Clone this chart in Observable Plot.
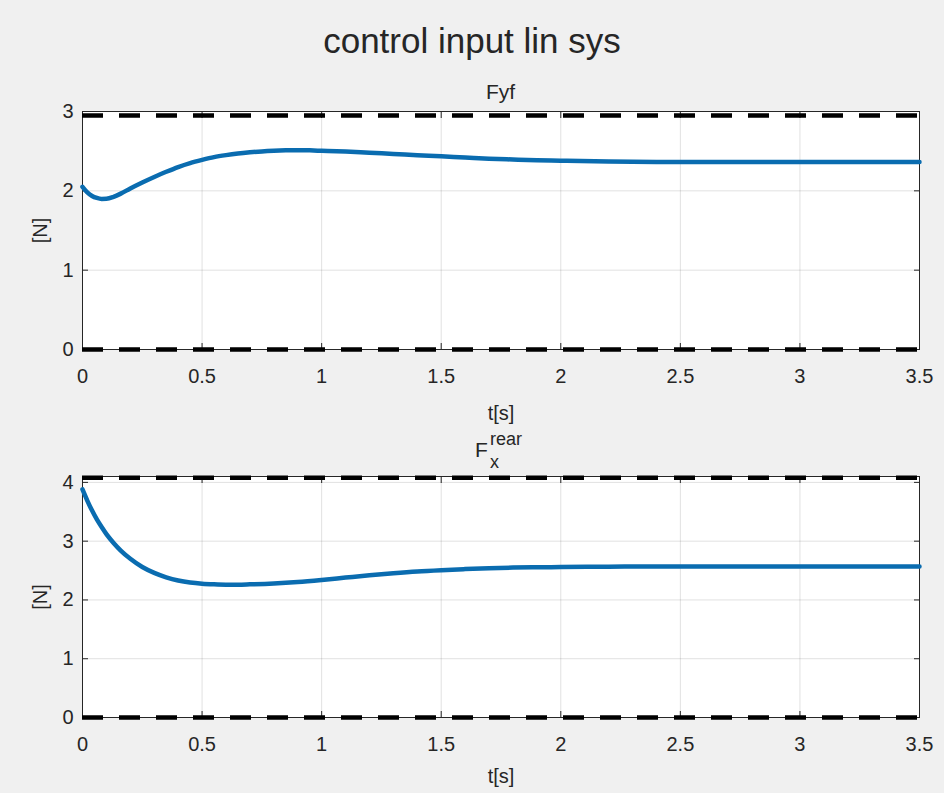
<!DOCTYPE html>
<html><head><meta charset="utf-8">
<script src="https://cdn.jsdelivr.net/npm/d3@7"></script>
<script src="https://cdn.jsdelivr.net/npm/@observablehq/plot@0.6"></script>
<style>
body{margin:0;background:#f0f0f0;}
#fig{position:relative;width:944px;height:793px;background:#f0f0f0;font-family:"Liberation Sans",Arial,sans-serif;color:#262626;overflow:hidden}
.abs{position:absolute;white-space:nowrap;line-height:1}
.plot{position:absolute;left:0}
</style></head><body><div id="fig"></div>
<script>
// ---- data ----
const figTitle = "control input lin sys";
const xLabel = "t[s]";
const yLabel = "[N]";
const xTicks = [0, 0.5, 1, 1.5, 2, 2.5, 3, 3.5];
const xTickLabels = ["0", "0.5", "1", "1.5", "2", "2.5", "3", "3.5"];

const tFyf = [0, 0.02, 0.04, 0.06, 0.08, 0.1, 0.13, 0.16, 0.2, 0.25, 0.3, 0.35, 0.4, 0.45, 0.5, 0.55, 0.6, 0.65, 0.7, 0.75, 0.8, 0.85, 0.9, 0.95, 1.0, 1.1, 1.2, 1.3, 1.4, 1.5, 1.6, 1.7, 1.8, 1.9, 2.0, 2.2, 2.4, 2.6, 2.8, 3.0, 3.2, 3.5];
const vFyf = [2.05, 1.98, 1.935, 1.91, 1.898, 1.9, 1.925, 1.965, 2.03, 2.105, 2.175, 2.24, 2.30, 2.35, 2.39, 2.425, 2.45, 2.47, 2.485, 2.497, 2.505, 2.51, 2.512, 2.51, 2.505, 2.495, 2.48, 2.465, 2.45, 2.435, 2.42, 2.405, 2.395, 2.385, 2.38, 2.37, 2.365, 2.365, 2.365, 2.365, 2.365, 2.365];
const yTicksFyf = [0, 1, 2, 3];
const yTickLabelsFyf = ["0", "1", "2", "3"];
const yDomainFyf = [0, 3];
const limitsFyf = [0, 2.95];

const tFx = [0, 0.02, 0.04, 0.06, 0.08, 0.1, 0.13, 0.16, 0.2, 0.25, 0.3, 0.35, 0.4, 0.45, 0.5, 0.55, 0.6, 0.65, 0.7, 0.8, 0.9, 1.0, 1.1, 1.2, 1.3, 1.4, 1.5, 1.6, 1.7, 1.8, 1.9, 2.0, 2.2, 2.4, 2.6, 2.8, 3.0, 3.2, 3.5];
const vFx = [3.88, 3.69, 3.52, 3.37, 3.24, 3.12, 2.97, 2.84, 2.70, 2.56, 2.46, 2.385, 2.33, 2.295, 2.275, 2.265, 2.26, 2.26, 2.265, 2.28, 2.305, 2.34, 2.38, 2.42, 2.455, 2.485, 2.507, 2.525, 2.54, 2.55, 2.555, 2.56, 2.565, 2.57, 2.57, 2.57, 2.57, 2.57, 2.57];
const yTicksFx = [0, 1, 2, 3, 4];
const yTickLabelsFx = ["0", "1", "2", "3", "4"];
const yDomainFx = [0, 4.1];
const limitsFx = [0, 4.08];

// ---- drawing ----
const font = "'Liberation Sans', Arial, sans-serif";
const ink = "#262626";

function subplot({t, v, yTicks, yTickLabels, yDomain, limits, height, marginTop, marginBottom, xLabelOffset}) {
  const data = t.map((d, i) => ({t: d, v: v[i]}));
  const fmtX = d => xTickLabels[xTicks.indexOf(d)];
  const fmtY = d => yTickLabels[yTicks.indexOf(d)];
  return Plot.plot({
    width: 944, height, marginLeft: 82, marginRight: 25, marginTop, marginBottom,
    style: {background: "transparent", fontFamily: font, fontSize: "20px", color: ink, overflow: "visible"},
    x: {domain: [0, 3.5]},
    y: {domain: yDomain},
    marks: [
      Plot.frame({fill: "white", stroke: null}),
      Plot.gridX(xTicks, {stroke: "#000", strokeOpacity: 0.12}),
      Plot.gridY(yTicks, {stroke: "#000", strokeOpacity: 0.12}),
      Plot.frame({stroke: ink}),
      Plot.axisX({ticks: xTicks, tickFormat: fmtX, tickSize: -6, tickPadding: 25, stroke: ink, fill: ink,
        label: xLabel, labelAnchor: "center", labelArrow: "none", labelOffset: xLabelOffset}),
      Plot.axisX({anchor: "top", ticks: xTicks, tickFormat: () => "", tickSize: -6, stroke: ink, label: null}),
      Plot.axisY({ticks: yTicks, tickFormat: fmtY, tickSize: -6, tickPadding: 15, stroke: ink, fill: ink,
        label: yLabel, labelAnchor: "center", labelArrow: "none", labelOffset: 50}),
      Plot.axisY({anchor: "right", ticks: yTicks, tickFormat: () => "", tickSize: -6, stroke: ink, label: null}),
      Plot.ruleY(limits, {stroke: "black", strokeWidth: 4.5, strokeDasharray: "21,16"}),
      Plot.line(data, {x: "t", y: "v", stroke: "#0a6cb0", strokeWidth: 4.5, curve: "monotone-x"})
    ]
  });
}

const fig = document.getElementById("fig");

function addText(txt, {left, top, size, center}) {
  const el = document.createElement("div");
  el.className = "abs";
  el.textContent = txt;
  el.style.fontSize = size + "px";
  el.style.top = top + "px";
  if (center) { el.style.left = (left - 300) + "px"; el.style.width = "600px"; el.style.textAlign = "center"; }
  else el.style.left = left + "px";
  fig.appendChild(el);
}

const p1 = subplot({t: tFyf, v: vFyf, yTicks: yTicksFyf, yTickLabels: yTickLabelsFyf, yDomain: yDomainFyf, limits: limitsFyf,
  height: 370, marginTop: 51, marginBottom: 81, xLabelOffset: 70});
p1.classList.add("plot"); p1.style.top = "60px";
fig.appendChild(p1);

const p2 = subplot({t: tFx, v: vFx, yTicks: yTicksFx, yTickLabels: yTickLabelsFx, yDomain: yDomainFx, limits: limitsFx,
  height: 363, marginTop: 46, marginBottom: 76, xLabelOffset: 65});
p2.classList.add("plot"); p2.style.top = "430px";
fig.appendChild(p2);

addText(figTitle, {left: 472, top: 23, size: 35, center: true});
addText("Fyf", {left: 500.5, top: 81, size: 21, center: true});
addText("F", {left: 475, top: 439, size: 21});
addText("rear", {left: 490, top: 430, size: 18});
addText("x", {left: 490, top: 453, size: 18});
</script></body></html>
